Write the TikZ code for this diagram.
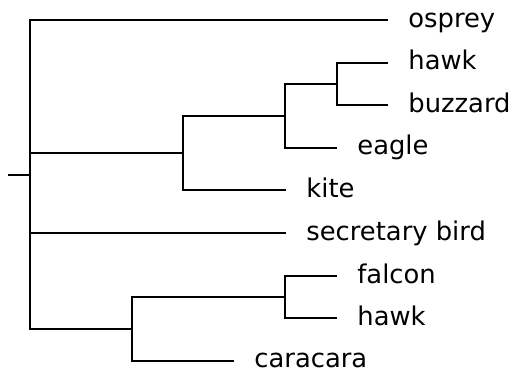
\documentclass[tikz,border=0pt]{standalone}
\usepackage{fontspec}
\setmainfont{DejaVu Sans}
\usetikzlibrary{positioning, calc}
\tikzset{
  leaf/.style={anchor=west, inner xsep=10pt, inner ysep=0pt, text height=0.7em, text depth=0pt,
    font=\fontsize{12.9}{15}\selectfont},
  branch/.style={line width=1pt, draw=black}
}
\begin{document}
\begin{tikzpicture}[x=0.5pt, y=-0.5pt]
  \useasboundingbox (0,0) rectangle (513,371);
  \coordinate (root) at (8,174.5);
  \coordinate (n0) at (30,174.5);
  \coordinate (nA) at (183,153);
  \coordinate (nB) at (285,116);
  \coordinate (nC) at (337,84);
  \coordinate (nD) at (132,329);
  \coordinate (nE) at (285,297);

  \node[leaf] (osprey) at (388,20) {osprey};
  \node[leaf] (hawk) at (388,62.5) {hawk};
  \node[leaf] (buzzard) at (388,105) {buzzard};
  \node[leaf] (eagle) at (337,147.5) {eagle};
  \node[leaf] (kite) at (286,190) {kite};
  \node[leaf] (secretary) at (286,233) {secretary bird};
  \node[leaf] (falcon) at (337,276) {falcon};
  \node[leaf] (hawkb) at (337,318) {hawk};
  \node[leaf] (caracara) at (234,360.5) {caracara};

  \draw[branch] (root) -- (n0);
  \draw[branch] (n0) |- (osprey);
  \draw[branch] (n0) |- (nA);
  \draw[branch] (n0) |- (secretary);
  \draw[branch] (n0) |- (nD);
  \draw[branch] (nA) |- (nB);
  \draw[branch] (nA) |- (kite);
  \draw[branch] (nB) |- (nC);
  \draw[branch] (nB) |- (eagle);
  \draw[branch] (nC) |- (hawk);
  \draw[branch] (nC) |- (buzzard);
  \draw[branch] (nD) |- (nE);
  \draw[branch] (nD) |- (caracara);
  \draw[branch] (nE) |- (falcon);
  \draw[branch] (nE) |- (hawkb);
\end{tikzpicture}
\end{document}
